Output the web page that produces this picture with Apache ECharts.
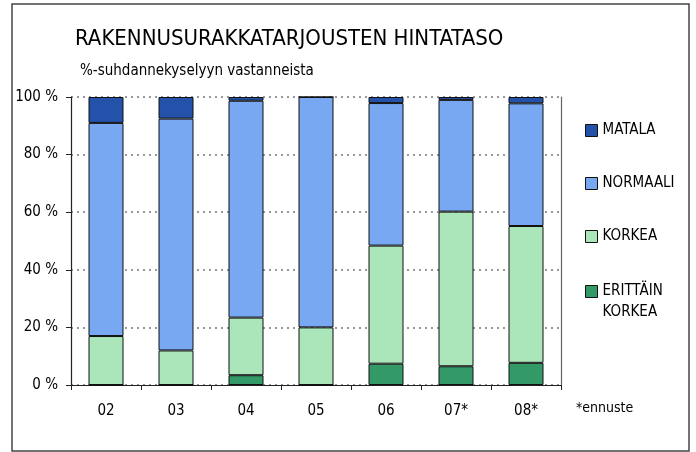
<!DOCTYPE html>
<html>
<head>
<meta charset="utf-8">
<script src="https://cdn.jsdelivr.net/npm/echarts@6/dist/echarts.min.js"></script>
<style>html,body{margin:0;padding:0;background:#fff}#c{width:696px;height:452px}</style>
</head>
<body>
<div id="c"></div>
<script>
const categories = ['02', '03', '04', '05', '06', '07*', '08*'];
const erittainKorkea = [0, 0, 3.4, 0, 7.4, 6.5, 7.7];
const korkea = [17, 12, 20, 20, 41, 53.7, 47.5];
const normaali = [74, 80.5, 75.3, 80, 49.5, 38.8, 42.6];
const matala = [9, 7.5, 1.3, 0, 2.1, 1, 2.2];
const yTicks = [0, 20, 40, 60, 80, 100];

const FONT = '"Liberation Sans Narrow", "DejaVu Sans Condensed", "Liberation Sans", sans-serif';
const FONT2 = '"Liberation Sans", "DejaVu Sans", sans-serif';
const chart = echarts.init(document.getElementById('c'), null, {renderer: 'canvas'});
const barBorder = {borderColor: '#111', borderWidth: 1};
chart.setOption({
  animation: false,
  textStyle: {fontFamily: FONT2},
  title: [
    {text: 'RAKENNUSURAKKATARJOUSTEN HINTATASO', left: 70, top: 23,
     textStyle: {fontFamily: FONT, fontSize: 22, fontWeight: 'normal', color: '#000'}},
    {text: '%-suhdannekyselyyn vastanneista', left: 75, top: 59,
     textStyle: {fontFamily: FONT, fontSize: 15, fontWeight: 'normal', color: '#000'}}
  ],
  graphic: [
    {type: 'rect', shape: {x: 12, y: 4, width: 677, height: 447}, silent: true,
     style: {fill: 'none', stroke: '#444', lineWidth: 1.5}},
    {type: 'text', left: 576, top: 401, silent: true,
     style: {text: '*ennuste', fontFamily: FONT, fontSize: 14, fill: '#000'}}
  ],
  legend: [
    {orient: 'vertical', left: 580, top: 115, itemGap: 32, itemWidth: 12, itemHeight: 12,
     icon: 'rect',
     data: ['MATALA', 'NORMAALI', 'KORKEA'],
     itemStyle: {borderColor: '#111', borderWidth: 1},
     textStyle: {fontFamily: FONT, fontSize: 15, color: '#000', lineHeight: 21}},
    {orient: 'vertical', left: 580, top: 255, itemWidth: 12, itemHeight: 12,
     icon: 'rect',
     data: ['ERITTÄIN KORKEA'],
     formatter: () => ' \nERITTÄIN\nKORKEA',
     itemStyle: {borderColor: '#111', borderWidth: 1},
     textStyle: {fontFamily: FONT, fontSize: 15, color: '#000', lineHeight: 21}}
  ],
  grid: {left: 71, right: 135, top: 97, bottom: 67, containLabel: false},
  xAxis: {
    type: 'category', data: categories,
    axisLine: {lineStyle: {color: '#222', width: 1.2}},
    axisTick: {show: true, length: 5, lineStyle: {color: '#222'}},
    axisLabel: {margin: 19, fontFamily: FONT, fontSize: 15, color: '#000'}
  },
  yAxis: [
    {type: 'value', min: 0, max: 100, interval: 20,
     axisLine: {show: true, lineStyle: {color: '#222', width: 1.2}},
     axisTick: {show: true, length: 5, lineStyle: {color: '#222'}},
     axisLabel: {margin: 13, fontFamily: FONT, fontSize: 15, color: '#000',
       formatter: v => yTicks.includes(v) ? v + ' %' : ''},
     splitLine: {show: true, lineStyle: {color: '#777', type: [2, 4], width: 1.5}}},
    {type: 'value', min: 0, max: 100, interval: 20, position: 'right',
     axisLine: {show: true, lineStyle: {color: '#666', width: 1.2}},
     axisTick: {show: false}, axisLabel: {show: false}, splitLine: {show: false}}
  ],
  series: [
    {name: 'ERITTÄIN KORKEA', type: 'bar', stack: 's', barWidth: '50%', data: erittainKorkea,
     itemStyle: Object.assign({color: '#339966'}, barBorder)},
    {name: 'KORKEA', type: 'bar', stack: 's', barWidth: '50%', data: korkea,
     itemStyle: Object.assign({color: '#aae6b9'}, barBorder)},
    {name: 'NORMAALI', type: 'bar', stack: 's', barWidth: '50%', data: normaali,
     itemStyle: Object.assign({color: '#78a8f2'}, barBorder)},
    {name: 'MATALA', type: 'bar', stack: 's', barWidth: '50%', data: matala,
     itemStyle: Object.assign({color: '#2452aa'}, barBorder)}
  ]
});
</script>
</body>
</html>
